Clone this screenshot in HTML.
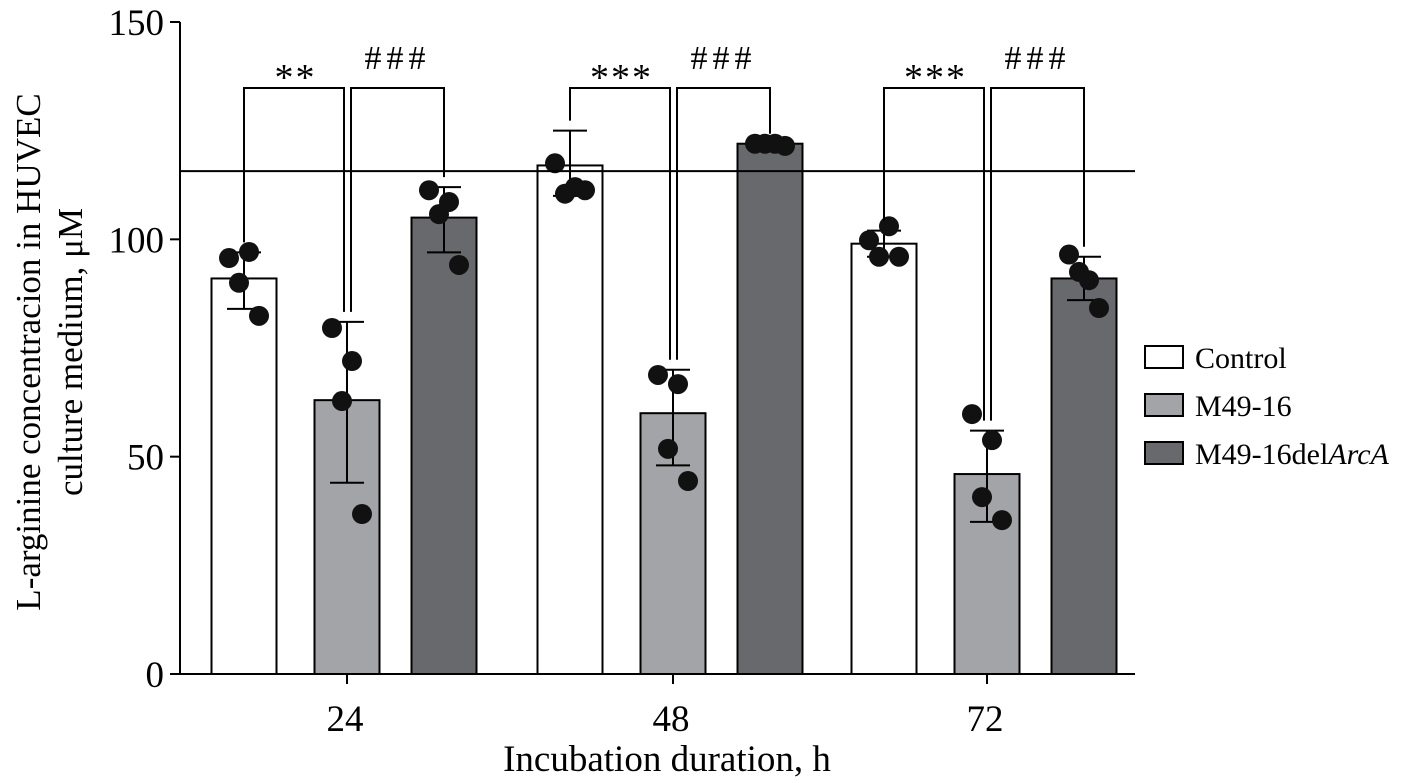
<!DOCTYPE html>
<html><head><meta charset="utf-8"><style>
html,body{margin:0;padding:0;background:#fff}
svg{display:block;font-family:"Liberation Serif",serif}
</style></head><body>
<svg width="1411" height="783" viewBox="0 0 1411 783">
<g id="plot"></g>
</svg>
<script>
const groups=["24","48","72"];
const seriesNames=["Control","M49-16","M49-16delArcA"];
const means=[[91,63,105],[117,60,122],[99,46,91]];
const errLo=[[84,44,97],[110,48,122],[96,35,86]];
const errHi=[[97,81,112],[125,70,122],[102,56,96]];
const points=[
 [[95.7,97.1,90,82.4],[79.6,72,62.8,36.8],[111.3,108.6,105.8,94.1]],
 [[117.5,112,110.5,111.3],[68.8,66.7,51.8,44.4],[122,122,122,121.5]],
 [[99.8,103,96,96],[59.8,53.8,40.7,35.4],[96.5,90.6,92.5,84.2]]
];
const yTicks=[0,50,100,150];
const refLine=115.7;
const sigLeft=["**","***","***"];
const sigRight=["###","###","###"];
const fills=["#ffffff","#a3a4a8","#68696d"];
const NS="http://www.w3.org/2000/svg";
const g=document.getElementById('plot');
function y(v){return 674-v*652/150;}
const groupCenter=[345,671,985];
const off=[-101,2,99], bw=65;
function bx(gi,si){return groupCenter[gi]+off[si];}
function el(t,a,txt){const e=document.createElementNS(NS,t);for(const k in a)e.setAttribute(k,a[k]);if(txt!==undefined)e.textContent=txt;g.appendChild(e);return e;}
let e=el('line',{x1:180,y1:22,x2:180,y2:675,stroke:'#000','stroke-width':2});


e=el('line',{x1:179,y1:674,x2:1135,y2:674,stroke:'#000','stroke-width':2});


yTicks.forEach(t=>{
 el('line',{x1:170,y1:y(t),x2:180,y2:y(t),stroke:'#000','stroke-width':2});
 e=el('text',{x:164,y:y(t)+13,'text-anchor':'end','font-size':37},t);
 
 
});
groups.forEach((lab,gi)=>{
 el('line',{x1:groupCenter[gi]+2,y1:674,x2:groupCenter[gi]+2,y2:684,stroke:'#000','stroke-width':2});
 e=el('text',{x:groupCenter[gi],y:731,'text-anchor':'middle','font-size':37},lab);
 
 
});
e=el('text',{x:667,y:771,'text-anchor':'middle','font-size':37},'Incubation duration, h');


e=el('text',{transform:'translate(40,352) rotate(-90)','text-anchor':'middle','font-size':35},'L-arginine concentracion in HUVEC');


e=el('text',{transform:'translate(82,352) rotate(-90)','text-anchor':'middle','font-size':35},'culture medium, μM');


groups.forEach((lab,gi)=>{
 seriesNames.forEach((s,si)=>{
  const cx=bx(gi,si);
  e=el('rect',{x:cx-bw/2,y:y(means[gi][si]),width:bw,height:674-y(means[gi][si]),fill:fills[si],stroke:'#000','stroke-width':2});
  
  
  el('line',{x1:cx,y1:y(errLo[gi][si]),x2:cx,y2:y(errHi[gi][si]),stroke:'#000','stroke-width':2});
  el('line',{x1:cx-17,y1:y(errLo[gi][si]),x2:cx+17,y2:y(errLo[gi][si]),stroke:'#000','stroke-width':2});
  el('line',{x1:cx-17,y1:y(errHi[gi][si]),x2:cx+17,y2:y(errHi[gi][si]),stroke:'#000','stroke-width':2});
  const dx=[-15,5,-5,15];
  points[gi][si].forEach((p,pi)=>{
   e=el('circle',{cx:cx+dx[pi],cy:y(p),r:10,fill:'#111'});
   
   
  });
 });
});
e=el('line',{x1:180,y1:y(refLine),x2:1135,y2:y(refLine),stroke:'#000','stroke-width':2});


groups.forEach((lab,gi)=>{
 const top=88;
 const c=bx(gi,0),m=bx(gi,1),d=bx(gi,2);
 const cTop=y(errHi[gi][0])-10, mTop=y(errHi[gi][1])-10, dTop=y(errHi[gi][2])-10;
 el('polyline',{points:`${c},${cTop} ${c},${top} ${m-3},${top} ${m-3},${mTop}`,fill:'none',stroke:'#000','stroke-width':2});
 el('polyline',{points:`${m+4},${mTop} ${m+4},${top} ${d},${top} ${d},${dTop}`,fill:'none',stroke:'#000','stroke-width':2});
 e=el('text',{x:(c+m)/2,y:90,'text-anchor':'middle','font-size':38,'letter-spacing':2},sigLeft[gi]);
 
 
 e=el('text',{x:(m+d)/2+2,y:69,'text-anchor':'middle','font-size':34,'letter-spacing':5},sigRight[gi]);
 
 
});
seriesNames.forEach((s,si)=>{
 const ly=346+si*48;
 e=el('rect',{x:1145,y:ly,width:38,height:22,fill:fills[si],stroke:'#000','stroke-width':2});
 
 
 const t=el('text',{x:1195,y:ly+22,'font-size':30});
 if(si===2){t.innerHTML='M49-16del<tspan font-style="italic">ArcA</tspan>';}else t.textContent=s;
 
 
});
</script>
</body></html>
